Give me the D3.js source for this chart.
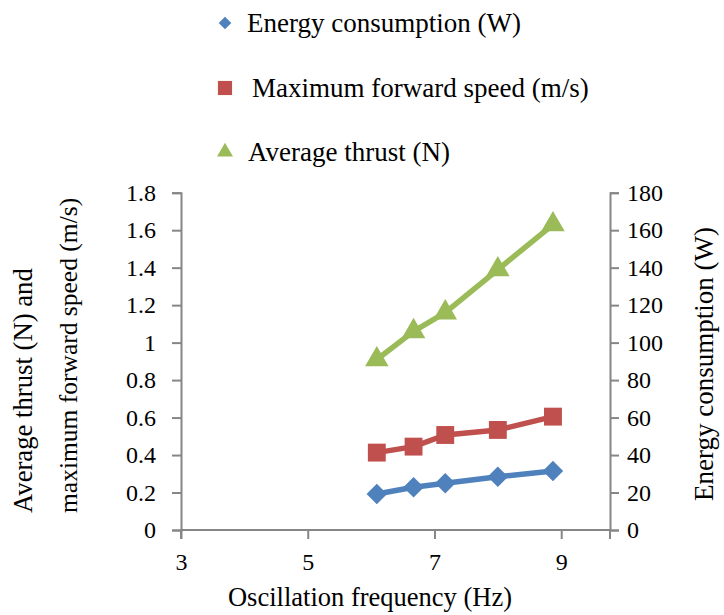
<!DOCTYPE html>
<html>
<head>
<meta charset="utf-8">
<script src="https://cdn.jsdelivr.net/npm/d3@7"></script>
</head>
<body style="margin:0;background:#fff">
<svg id="chart" width="724" height="615" style="display:block"></svg>
<script>
// Oscillation frequency (Hz) for each measurement
const frequency = [6.09, 6.67, 7.17, 8.0, 8.87];
// Series values
const energy = [19.2, 22.8, 24.9, 28.4, 31.5];       // W (right axis)
const maxSpeed = [0.413, 0.445, 0.507, 0.534, 0.605]; // m/s (left axis)
const thrust = [0.91, 1.06, 1.16, 1.39, 1.63];        // N (left axis)
// Tick labels
const xTicks = [3, 5, 7, 9];
const leftTicks = [0, 0.2, 0.4, 0.6, 0.8, 1, 1.2, 1.4, 1.6, 1.8];
const rightTicks = [0, 20, 40, 60, 80, 100, 120, 140, 160, 180];

const serif = '"Liberation Serif", monospace';
const svg = d3.select("#chart");
const axisColor = "#868686";
const colors = { energy: "#4F81BD", speed: "#C0504D", thrust: "#9BBB59" };

const x = d3.scaleLinear().domain([3, 9.77]).range([181, 610]);
const yL = d3.scaleLinear().domain([0, 1.8]).range([530, 192.7]);
const yR = d3.scaleLinear().domain([0, 180]).range([530, 192.7]);

function styleAxis(g) {
  g.attr("font-family", null).attr("font-size", null);
  g.select(".domain").attr("stroke", axisColor).attr("stroke-width", 2);
  g.selectAll(".tick line").attr("stroke", axisColor).attr("stroke-width", 2);
  g.selectAll(".tick text")
    .style("font-family", serif)
    .attr("font-size", 24)
    .attr("fill", "#000");
}

// Left axis
svg.append("g").attr("transform", `translate(${x(3)},0)`)
  .call(d3.axisLeft(yL).tickValues(leftTicks).tickFormat(d3.format("")).tickSize(9).tickSizeOuter(9).tickPadding(16))
  .call(styleAxis);

// Right axis
svg.append("g").attr("transform", `translate(${x.range()[1]},0)`)
  .call(d3.axisRight(yR).tickValues(rightTicks).tickFormat(d3.format("d")).tickSize(9).tickSizeOuter(9).tickPadding(8))
  .call(styleAxis);

// Bottom axis
const gx = svg.append("g").attr("transform", `translate(0,${yL(0)})`)
  .call(d3.axisBottom(x).tickValues(xTicks).tickFormat(d3.format("d")).tickSize(9).tickSizeOuter(9).tickPadding(14))
  .call(styleAxis);
gx.select(".domain").attr("d", `M${x.range()[0]},9V0H${x.range()[1]}V9`);

// Series
const series = [
  { key: "thrust", values: thrust, scale: yL, color: colors.thrust, symbol: d3.symbolTriangle, size: 240, rot: 0 },
  { key: "speed", values: maxSpeed, scale: yL, color: colors.speed, symbol: d3.symbolSquare, size: 320, rot: 0 },
  { key: "energy", values: energy, scale: yR, color: colors.energy, symbol: d3.symbolSquare, size: 210, rot: 45 }
];

series.forEach(s => {
  const pts = frequency.map((f, i) => [x(f), s.scale(s.values[i])]);
  svg.append("path")
    .attr("d", d3.line()(pts))
    .attr("fill", "none")
    .attr("stroke", s.color)
    .attr("stroke-width", 5.5)
    .attr("stroke-linejoin", "round");
  svg.append("g").selectAll("path").data(pts).join("path")
    .attr("transform", d => `translate(${d[0]},${d[1]}) rotate(${s.rot})`)
    .attr("d", d3.symbol().type(s.symbol).size(s.size))
    .attr("fill", s.color);
});

function label(sel, size) {
  return sel.style("font-family", serif).attr("font-size", size).attr("fill", "#000");
}

// Legend
const legend = [
  { label: "Energy consumption (W)", color: colors.energy, symbol: d3.symbolSquare, size: 80, rot: 45, y: 23, tx: 247 },
  { label: "Maximum forward speed (m/s)", color: colors.speed, symbol: d3.symbolSquare, size: 200, rot: 0, y: 88, tx: 252 },
  { label: "Average thrust (N)", color: colors.thrust, symbol: d3.symbolTriangle, size: 110, rot: 0, y: 152, tx: 248 }
];
legend.forEach(l => {
  svg.append("path")
    .attr("transform", `translate(225,${l.y}) rotate(${l.rot})`)
    .attr("d", d3.symbol().type(l.symbol).size(l.size))
    .attr("fill", l.color);
  svg.append("text")
    .attr("x", l.tx).attr("y", l.y + 9)
    .call(label, 27)
    .text(l.label);
});

// Axis titles
svg.append("text")
  .attr("transform", "translate(32,513) rotate(-90)")
  .call(label, 26.7)
  .text("Average thrust (N) and");
svg.append("text")
  .attr("transform", "translate(77,513) rotate(-90)")
  .call(label, 25.5)
  .text("maximum forward speed (m/s)");
svg.append("text")
  .attr("transform", "translate(713,364) rotate(-90)")
  .attr("text-anchor", "middle")
  .call(label, 27)
  .text("Energy consumption (W)");
svg.append("text")
  .attr("x", 370).attr("y", 606)
  .attr("text-anchor", "middle")
  .call(label, 26.5)
  .text("Oscillation frequency (Hz)");
</script>
</body>
</html>
